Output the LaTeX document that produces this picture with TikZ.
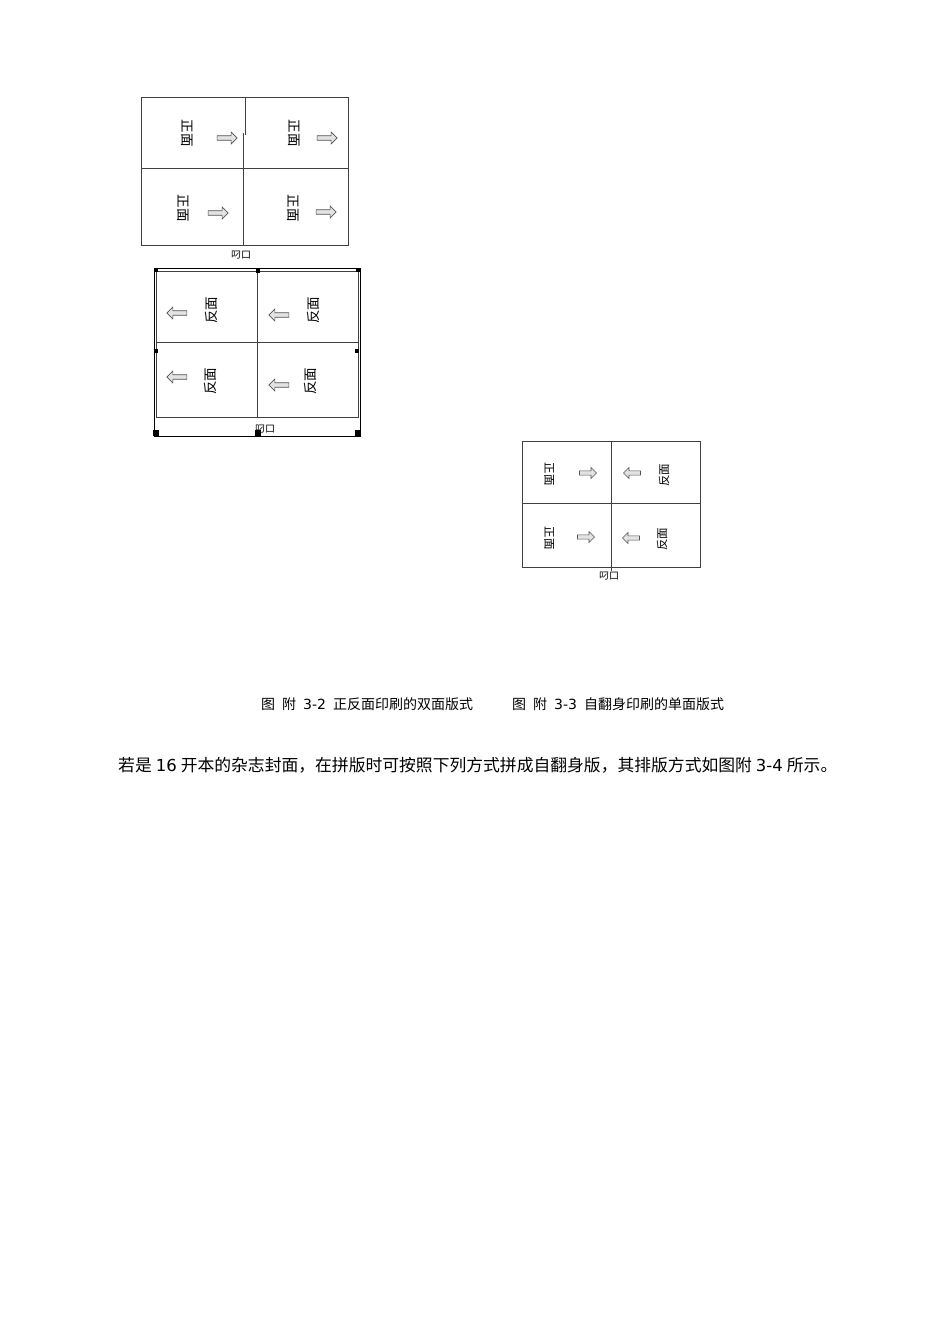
\documentclass[tikz,border=0pt]{standalone}
\usepackage{fontspec}
\newfontfamily\cjk{Noto Sans CJK SC}
\newfontfamily\lat{DejaVu Sans}
\usetikzlibrary{shapes.arrows}
\definecolor{ln}{HTML}{404040}
\tikzset{
  grid/.style={draw=ln, line width=0.9pt},
  rarrow/.style={single arrow, draw=ln!90, fill=gray!22, line width=0.6pt, minimum height=20pt, minimum width=12pt, single arrow head extend=3pt, inner sep=1.5pt},
  larrow/.style={rarrow, shape border rotate=180},
  sarrow/.style={minimum height=17pt, minimum width=11pt},
  vtxt/.style={font=\cjk\fontsize{13.5}{14}\selectfont, inner sep=0pt},
  stxt/.style={font=\cjk\fontsize{11.5}{12}\selectfont, inner sep=0pt},
  lab/.style={font=\cjk\fontsize{10}{11}\selectfont, inner sep=0pt},
  handle/.style={fill=black, minimum size=3.5pt, inner sep=0pt},
  bhandle/.style={fill=black, minimum size=5.5pt, inner sep=0pt}
}
\begin{document}
\begin{tikzpicture}[x=1pt,y=-1pt]
\useasboundingbox (0,0) rectangle (950,1344);
% ---------- Figure 1 ----------
\draw[grid] (141,97) rectangle (348,245);
\draw[grid] (141,168) -- (348,168);
\draw[grid] (245,97) -- (245,135);
\draw[grid] (243.5,133) -- (243.5,245);
\node[vtxt, rotate=-90] (f1a) at (187,133) {正面};
\node[rarrow] (a1a) at (226,138) {};
\node[vtxt, rotate=-90] (f1b) at (294,133) {正面};
\node[rarrow] (a1b) at (326,138) {};
\node[vtxt, rotate=-90] (f1c) at (183,208) {正面};
\node[rarrow] (a1c) at (217,213) {};
\node[vtxt, rotate=-90] (f1d) at (293,208) {正面};
\node[rarrow] (a1d) at (325,212) {};
\node[lab] (l1) at (241,255) {叼口};
% ---------- Figure 2 ----------
\draw[black, line width=0.8pt] (154,268.5) rectangle (360,436);
\draw[grid] (156,271) rectangle (358,417);
\draw[grid] (156,342) -- (358,342);
\draw[grid] (257,271) -- (257,417);
\node[handle] (h1) at (156,270) {};
\node[handle] (h2) at (258,271) {};
\node[handle] (h3) at (358,270) {};
\node[handle] (h4) at (156,351) {};
\node[handle] (h5) at (357,351) {};
\node[bhandle] (h6) at (156,433) {};
\node[bhandle] (h7) at (258,433) {};
\node[bhandle] (h8) at (358,433) {};
\node[larrow] (a2a) at (178,313) {};
\node[vtxt, rotate=90] (f2a) at (211,310) {反面};
\node[larrow] (a2b) at (280,315) {};
\node[vtxt, rotate=90] (f2b) at (313,310) {反面};
\node[larrow] (a2c) at (178,377) {};
\node[vtxt, rotate=90] (f2c) at (210,381) {反面};
\node[larrow] (a2d) at (280,385) {};
\node[vtxt, rotate=90] (f2d) at (310,381) {反面};
\node[lab] (l2) at (265,429) {叼口};
% ---------- Figure 3 ----------
\draw[grid] (522,441) rectangle (700,567);
\draw[grid] (522,503) -- (700,503);
\draw[grid] (611,441) -- (611,571);
\node[stxt, rotate=-90] (f3a) at (549,474) {正面};
\node[rarrow, sarrow] (a3a) at (587,473) {};
\node[stxt, rotate=-90] (f3c) at (549,538) {正面};
\node[rarrow, sarrow] (a3c) at (585,537) {};
\node[larrow, sarrow] (a3b) at (633,473) {};
\node[stxt, rotate=90] (f3b) at (664,475) {反面};
\node[larrow, sarrow] (a3d) at (632,538) {};
\node[stxt, rotate=90] (f3d) at (662,539) {反面};
\node[lab] (l3) at (609,576) {叼口};
% ---------- captions ----------
\node[anchor=west, inner sep=0pt, font=\cjk\fontsize{14}{15}\selectfont] (c1) at (261,704) {图\hspace{7pt}附\hspace{7pt}{\lat\fontsize{14}{15}\selectfont 3-2}\hspace{7pt}正反面印刷的双面版式};
\node[anchor=west, inner sep=0pt, font=\cjk\fontsize{14}{15}\selectfont] (c2) at (512,704) {图\hspace{7pt}附\hspace{7pt}{\lat\fontsize{14}{15}\selectfont 3-3}\hspace{7pt}自翻身印刷的单面版式};
\node[anchor=west, inner sep=0pt, font=\cjk\fontsize{16.8}{18}\selectfont] (s1) at (118,765) {若是\hspace{4pt}{\lat\fontsize{16.5}{18}\selectfont 16}\hspace{4pt}开本的杂志封面，在拼版时可按照下列方式拼成自翻身版，其排版方式如图附\hspace{4pt}{\lat\fontsize{16.5}{18}\selectfont 3-4}\hspace{4pt}所示。};
\end{tikzpicture}
\end{document}
